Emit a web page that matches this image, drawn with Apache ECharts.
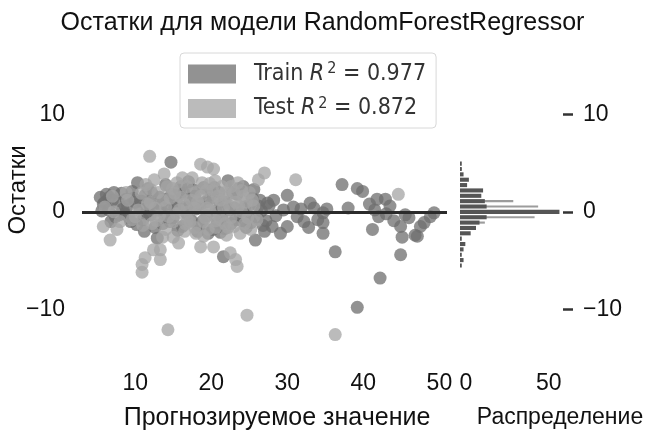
<!DOCTYPE html>
<html>
<head>
<meta charset="utf-8">
<script src="https://cdn.jsdelivr.net/npm/echarts@6/dist/echarts.min.js"></script>
<style>
html,body{margin:0;padding:0;background:#fff;}
#chart{width:645px;height:435px;}
</style>
</head>
<body>
<div id="chart"></div>
<script>
// ---- data ----
var titleText = 'Остатки для модели RandomForestRegressor';
var xName = 'Прогнозируемое значение';
var yName = 'Остатки';
var histName = 'Распределение';
var seriesNames = ['Train', 'Test'];
var r2Values = ['0.977', '0.872'];

var xTicks = [10, 20, 30, 40, 50];
var yTicks = [-10, 0, 10];
var histTicks = [0, 50];

// predicted value, residual
var trainPoints = [
  [5.4,1.5],[5.8,0.8],[6.2,1.8],[6.5,0.2],[7.0,1.2],[7.4,-0.5],[7.8,0.9],[8.2,1.9],[8.6,-0.2],[9.0,0.6],
  [9.4,-1.0],[9.8,1.4],[10.3,3.0],[10.6,0.3],[11.0,-0.8],[11.3,1.7],[11.7,2.4],[12.0,-0.3],[12.4,0.9],[12.9,-2.7],
  [13.2,1.5],[13.6,-1.2],[14.0,2.8],[14.4,0.2],[14.7,5.1],[15.0,-0.6],[15.4,1.1],[15.8,2.2],[16.2,-1.5],[16.6,0.5],
  [17.0,3.1],[17.4,-0.9],[17.8,1.6],[18.2,-2.0],[18.6,0.8],[19.0,2.5],[19.4,-0.4],[19.8,1.3],[20.2,-1.8],[20.6,0.1],
  [21.0,2.0],[21.6,-4.6],[21.4,-0.7],[21.8,1.0],[22.2,3.2],[22.6,-1.2],[23.0,0.4],[23.4,1.8],[23.8,-0.3],[24.2,2.6],
  [24.6,-1.6],[25.0,0.7],[25.4,1.4],[25.8,-2.9],[26.0,-0.5],[26.4,1.2],[26.8,-1.4],[27.4,0.9],[27.0,-2.0],[27.6,0.6],
  [28.2,1.2],[28.5,-0.4],[29.1,-2.2],[29.5,0.2],[30.0,1.7],[30.0,-1.5],[30.8,0.5],[31.3,-0.5],[31.8,0.3],[32.2,-1.0],
  [32.8,-1.6],[33.0,0.9],[33.5,0.4],[34.0,-0.8],[34.7,-0.1],[34.7,-1.1],[34.7,-2.2],[35.2,0.3],[36.3,-4.1],[37.2,2.8],
  [39.2,2.4],[39.9,2.1],[41.8,1.3],[42.9,1.3],[42.2,-6.8],[39.2,-9.8],[41.2,-1.8],[41.5,0.2],[42.0,-0.5],[43.0,-0.2],
  [43.5,0.6],[44.0,-0.9],[44.9,-1.5],[45.1,-2.6],[44.9,-4.4],[46.8,-2.4],[46.0,-0.6],[47.5,-1.5],[48.0,-1.1],[48.8,-0.5],
  [49.3,-0.1],[47.1,-2.5],[45.5,-0.3],[40.8,0.8],[38.0,0.4],[6.8,-1.0],[8.4,0.3],[10.0,1.0],[11.5,0.0],[13.0,0.2],
  [14.8,1.8],[16.0,2.6],[17.2,0.9],[18.8,-1.0],[20.0,1.8],[21.2,-2.1],[22.8,2.0],[24.0,-0.9],[25.6,2.3],[26.6,0.1],
  [5.6,0.1],[6.0,1.0],[6.6,1.5],[7.2,2.0],[7.9,-0.3],[8.8,1.3],[9.2,-0.6],[9.6,2.1],[10.2,-1.3],[10.8,1.1],
  [11.2,-2.0],[11.8,0.6],[12.2,1.9],[12.6,-1.6],[13.4,0.7],[13.8,-0.2],[14.2,1.3],[14.6,-1.0],[15.2,0.4],[15.6,-1.9],
  [16.4,1.9],[16.8,-0.2],[17.6,2.3],[18.0,0.3],[18.4,-1.4],[19.2,1.0],[19.6,-2.2],[20.4,2.5],[20.8,-1.1],[21.2,0.7],
  [21.8,-1.7],[22.4,0.2],[23.2,-0.8],[23.6,2.4],[24.4,0.5],[24.8,-0.4],[25.2,-1.1],[26.2,0.6],[27.2,-0.9],[28.0,-1.5]
];
var testPoints = [
  [5.8,-1.5],[6.7,-2.9],[7.6,-1.8],[6.0,0.5],[8.0,-1.0],[9.0,1.2],[10.0,-0.5],[11.9,5.7],[11.3,-4.7],[10.9,-5.4],
  [10.9,-6.2],[12.4,-3.9],[13.3,-3.9],[13.3,-4.9],[15.0,-2.6],[15.7,-3.2],[18.6,-3.6],[20.3,-3.6],[22.5,-4.2],[23.2,-4.9],
  [23.4,-5.6],[18.6,4.9],[19.5,4.6],[20.3,4.4],[27.0,4.0],[31.1,3.3],[44.6,1.8],[24.7,-10.6],[14.3,-12.1],[36.3,-12.6],
  [12.0,1.0],[13.0,2.0],[14.0,0.5],[15.0,-1.0],[16.0,1.5],[17.0,0.0],[18.0,2.0],[19.0,-1.0],[20.0,1.0],[21.0,-0.5],
  [22.0,1.5],[23.0,-1.5],[24.0,0.0],[25.0,2.0],[26.0,-0.8],[17.5,3.5],[20.5,3.2],[23.5,3.0],[12.5,3.3],[15.5,3.0],
  [19.0,-2.5],[22.0,-2.4],[14.0,-1.8],[16.5,-2.0],[12.8,-0.9],[16.8,-0.7],[18.4,0.6],[21.6,0.4],[24.6,1.0],[10.8,1.9],
  [8.8,2.0],[7.2,0.0],[13.8,3.9],[19.8,2.9],[25.2,-1.8],[26.2,3.3],
  [11.4,2.8],[12.2,-1.2],[13.6,1.2],[14.4,-0.5],[14.9,2.4],[15.8,0.2],[16.2,3.5],[16.6,-1.2],[17.4,1.2],[17.8,-1.6],
  [18.2,1.0],[18.8,3.0],[19.4,0.4],[19.6,-1.8],[20.6,-0.9],[20.8,1.6],[21.4,2.6],[21.8,-1.2],[22.4,0.6],[22.6,2.6],
  [23.2,1.0],[23.8,-2.2],[24.2,1.6],[24.8,-0.6],[25.6,0.6],[13.6,-2.6],[12.0,2.3],[10.4,0.2],[9.6,-0.8],[7.0,1.6],
  [12.6,0.4],[13.2,-0.4],[14.6,1.4],[15.4,-0.2],[15.2,1.9],[16.4,0.8],[17.2,-1.0],[17.8,0.4],[18.6,1.6],[19.2,-0.6],
  [19.8,0.2],[20.2,2.2],[20.6,-1.6],[21.2,1.2],[21.8,2.0],[22.6,-0.6],[23.0,2.0],[23.6,0.6],[24.4,-1.2],[25.4,1.2],
  [11.6,0.8],[11.0,-1.4],[14.2,2.6],[16.8,2.6],[19.4,2.2],[22.2,-1.6],[24.0,2.2],[18.0,-2.2]
];

// histogram of residuals (bin centre, counts)
var histBins    = [4.95,4.4,3.85,3.3,2.75,2.2,1.65,1.1,0.55,0,-0.55,-1.1,-1.65,-2.2,-2.75,-3.3,-3.85,-4.4,-4.95,-5.5];
var trainCounts = [1,1,2,5,4,13,12,14,15,56,15,11,9,6,1,3,2,1,2,1];
var testCounts  = [0,1,1,2,2,3,6,30,44,20,42,14,3,1,0,1,0,0,1,0];

// ---- chart ----
var chart = echarts.init(document.getElementById('chart'), null, {renderer: 'canvas'});
var trainColor = '#6e6e6e', testColor = '#a4a4a4';
var tickFont = "'Liberation Sans', sans-serif";
var textFont = "'Liberation Sans', sans-serif";
var legendFont = "'DejaVu Sans Condensed', 'DejaVu Sans', sans-serif";
function minusFmt(v) { return String(v).replace('-', '\u2212'); }
function histFmt(v) { return v === 0 ? '{z|0}' : String(v); }

function histRender(h) {
  return function (params, api) {
    var c = api.value(0), y = api.value(1);
    var p0 = api.coord([0, y + h / 2]);
    var p1 = api.coord([c, y - h / 2]);
    return {type: 'rect', shape: {x: p0[0], y: p0[1], width: p1[0] - p0[0], height: p1[1] - p0[1]}, style: api.style()};
  };
}

var trainHist = histBins.map(function (b, i) { return [trainCounts[i], b]; });
var testHist = histBins.map(function (b, i) { return [testCounts[i], b]; });

var option = {
  animation: false,
  backgroundColor: '#fff',
  title: {
    text: titleText, left: 'center', top: 6,
    textStyle: {fontFamily: textFont, fontSize: 25, fontWeight: 'normal', color: '#111'}
  },
  legend: {
    data: seriesNames, orient: 'vertical', left: 180, top: 53,
    padding: [8, 10, 8, 8], itemGap: 10, itemWidth: 48, itemHeight: 19,
    borderColor: '#d8d8d8', borderWidth: 1, borderRadius: 4, backgroundColor: '#fff',
    icon: 'rect',
    formatter: function (name) {
      var v = r2Values[seriesNames.indexOf(name)];
      return '{p|}{n|' + name + ' }{r|R}{s|2}{n| = ' + v + '}';
    },
    textStyle: {
      fontFamily: legendFont, fontSize: 23, color: '#333',
      rich: {
        p: {width: 13},
        n: {fontFamily: legendFont, fontSize: 23, color: '#333'},
        r: {fontFamily: legendFont, fontSize: 23, fontStyle: 'italic', color: '#333'},
        s: {fontFamily: legendFont, fontSize: 16, color: '#333', padding: [0, 0, 10, 3]}
      }
    }
  },
  grid: [
    {left: 82, top: 56, width: 365, height: 302},
    {left: 460, top: 56, width: 103, height: 302}
  ],
  xAxis: [
    {type: 'value', gridIndex: 0, min: 3, max: 51,
     axisLine: {show: false, onZero: false}, axisTick: {show: false}, splitLine: {show: false},
     axisLabel: {customValues: xTicks, margin: 14, fontFamily: tickFont, fontSize: 23, color: '#111'}},
    {type: 'value', gridIndex: 1, min: 0, max: 58,
     axisLine: {show: false, onZero: false}, axisTick: {show: false}, splitLine: {show: false},
     axisLabel: {customValues: histTicks, margin: 14, fontFamily: tickFont, fontSize: 23, color: '#111',
       formatter: histFmt, rich: {z: {fontFamily: tickFont, fontSize: 23, color: '#111', padding: [0, 0, 0, 12]}}}}
  ],
  yAxis: [
    {type: 'value', gridIndex: 0, min: -15, max: 16,
     axisLine: {show: false, onZero: false}, axisTick: {show: false}, splitLine: {show: false},
     axisLabel: {customValues: yTicks, margin: 17, fontFamily: tickFont, fontSize: 23, color: '#111', formatter: minusFmt}},
    {type: 'value', gridIndex: 1, min: -15, max: 16, position: 'right',
     axisLine: {show: false, onZero: false}, splitLine: {show: false},
     axisTick: {show: true, inside: false, customValues: yTicks, length: 10, lineStyle: {color: '#333', width: 2.5}},
     axisLabel: {customValues: yTicks, margin: 20, fontFamily: tickFont, fontSize: 23, color: '#111', formatter: minusFmt}}
  ],
  graphic: [
    {type: 'text', x: 277, y: 418, style: {text: xName, align: 'center', verticalAlign: 'middle', fontFamily: textFont, fontSize: 25, fill: '#111'}},
    {type: 'text', x: 560, y: 418, style: {text: histName, align: 'center', verticalAlign: 'middle', fontFamily: textFont, fontSize: 23, fill: '#111'}},
    {type: 'text', x: 18, y: 190, rotation: Math.PI / 2, style: {text: yName, align: 'center', verticalAlign: 'middle', fontFamily: textFont, fontSize: 24, fill: '#111'}}
  ],
  series: [
    {name: 'Train', type: 'scatter', xAxisIndex: 0, yAxisIndex: 0, data: trainPoints,
     symbolSize: 13, itemStyle: {color: trainColor, opacity: 0.75}},
    {name: 'Test', type: 'scatter', xAxisIndex: 0, yAxisIndex: 0, data: testPoints,
     symbolSize: 13, itemStyle: {color: testColor, opacity: 0.75},
     markLine: {silent: true, symbol: 'none', z: 10, label: {show: false},
       lineStyle: {color: '#2b2b2b', width: 3, type: 'solid'}, data: [{yAxis: 0}]}},
    {name: 'TestHist', type: 'custom', xAxisIndex: 1, yAxisIndex: 1, data: testHist,
     renderItem: histRender(0.22), encode: {x: 0, y: 1}, itemStyle: {color: '#9c9c9c'}},
    {name: 'TrainHist', type: 'custom', xAxisIndex: 1, yAxisIndex: 1, data: trainHist,
     renderItem: histRender(0.42), encode: {x: 0, y: 1}, itemStyle: {color: '#555'}}
  ]
};
chart.setOption(option);
</script>
</body>
</html>
